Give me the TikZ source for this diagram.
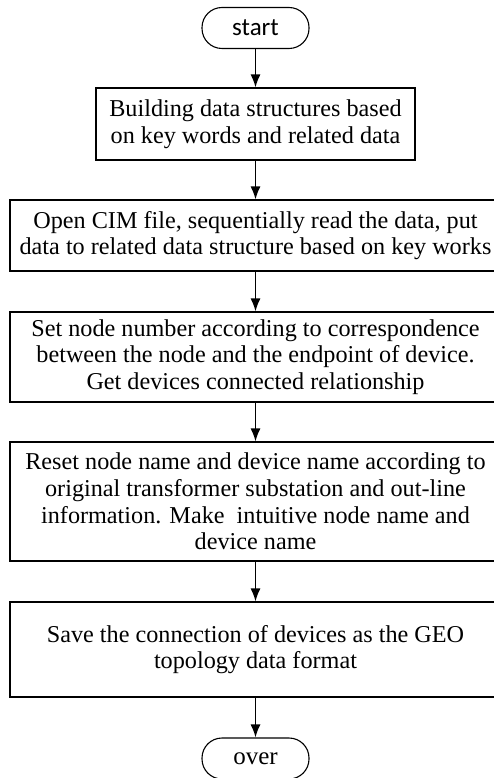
\documentclass[tikz,border=0pt]{standalone}
\usepackage{fontspec}
\setmainfont{Liberation Serif}
\newfontfamily\stepfont{Liberation Serif}
\newfontfamily\startfont{Carlito}
\usetikzlibrary{arrows.meta}

\begin{document}
\begin{tikzpicture}[x=1pt,y=-1pt]

\tikzset{process/.style = {shape=rectangle,draw,line width=1.1pt,align=center,font=\stepfont\fontsize{24.2}{26.6}\selectfont,inner sep=0pt}}
\tikzset{terminal/.style = {shape=rectangle,draw,rounded corners=20pt,line width=1.1pt,minimum width=107pt,minimum height=41pt}}
\tikzset{edge/.style = {->,> = {Latex[length=13pt,width=10pt]},line width=1.4pt}}

\useasboundingbox (0,0) rectangle (493,778);

% steps
\node[terminal,font=\startfont\fontsize{25}{26}\selectfont] (start) at (255.5,28) {start};
\node[process,minimum width=319pt,minimum height=72pt] (build) at (255.5,124) {Building data structures based\\on key words and related data};
\node[process,minimum width=491pt,minimum height=71pt] (read) at (255.5,235.5) {Open CIM file, sequentially read the data, put\\data to related data structure based on key works};
\node[process,minimum width=491pt,minimum height=90pt] (number) at (255.5,357) {Set node number according to correspondence\\between the node and the endpoint of device.\\Get devices connected relationship};
\node[process,minimum width=491pt,minimum height=119pt] (rename) at (255.5,501.5) {Reset node name and device name according to\\original transformer substation and out-line\\information. Make\ \ intuitive node name and\\device name};
\node[process,minimum width=491pt,minimum height=95pt] (save) at (255.5,649.5) {Save the connection of devices as the GEO\\topology data format};
\node[terminal,font=\stepfont\fontsize{25}{26}\selectfont] (over) at (255.5,758.5) {over};

% edges
\draw[edge] (start) to (build);
\draw[edge] (build) to (read);
\draw[edge] (read) to (number);
\draw[edge] (number) to (rename);
\draw[edge] (rename) to (save);
\draw[edge] (save) to (over);
\end{tikzpicture}
\end{document}
